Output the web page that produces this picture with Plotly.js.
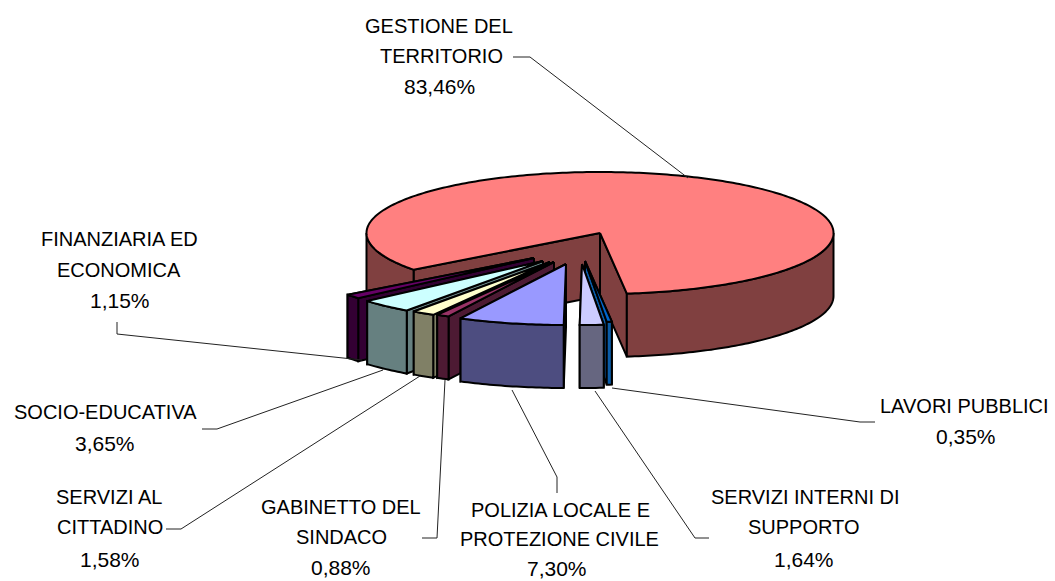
<!DOCTYPE html>
<html><head><meta charset="utf-8">
<script src="https://cdn.plot.ly/plotly-3.0.1.min.js"></script>
<style>html,body{margin:0;padding:0;background:#fff}#c{width:1055px;height:581px}</style>
</head><body><div id="c"></div>
<script>
// ---- data (clockwise from the main slice) ----
const categories = ["GESTIONE DEL|TERRITORIO","LAVORI PUBBLICI","SERVIZI INTERNI DI|SUPPORTO","POLIZIA LOCALE E|PROTEZIONE CIVILE","GABINETTO DEL|SINDACO","SERVIZI AL|CITTADINO","SOCIO-EDUCATIVA","FINANZIARIA ED|ECONOMICA"];
const values = [83.46,0.35,1.64,7.30,0.88,1.58,3.65,1.15];
const topColors = ["#FF8080","#0066CC","#CCCCFF","#9999FF","#993366","#FFFFCC","#CCFFFF","#660066"];
const sideColors = ["#804040","#0A5CA8","#666680","#4D4D80","#4D1A33","#808066","#668080","#330033"];
// per-slice explosion (pull) in plot units
const pullX = [0,-15,-18,-34,-46,-50,-57,-66];
const pullY = [0,28,31,31,29,29,28,25];
// centre of each text line of each label
const labelX = [[439,441,439],[964,966],[805,804,804],[560,559,557],[341,341,341],[109,110,110],[105,105],[119,119,120]];
const labelY = [[26,56,86],[406,436],[497,527,559],[510,539,568],[507,537,567],[497,527,559],[412,443],[239,270,300]];
// leader lines
const leaderX = [[513,530,688],[612,860,875],[595,695,709],[512,557,557],[422,437,445],[166,181,420],[202,217,383],[117,117,362]];
const leaderY = [[57,57,178],[388,422,422],[391,538,538],[390,477,493],[538,538,380],[529,529,376],[429,429,370],[322,334,360]];

// ---- geometry ----
const cx=600, cy=233, rx=233.5, ry=61, depth=63, startDeg=173.4;
const total=values.reduce((a,b)=>a+b,0);
function pt(t,ox,oy,dz){const r=t*Math.PI/180;return [cx+ox+rx*Math.sin(r),cy+oy-ry*Math.cos(r)+dz];}
function arc(a,b,ox,oy,dz){const n=Math.max(2,Math.ceil(Math.abs(b-a)));const o=[];for(let i=0;i<=n;i++)o.push(pt(a+(b-a)*i/n,ox,oy,dz));return o;}
const traces=[];
function poly(points,fill){
  const c=points.concat([points[0]]);
  traces.push({type:'scatter',mode:'lines',x:c.map(p=>p[0]),y:c.map(p=>p[1]),fill:'toself',fillcolor:fill,
    line:{color:'#000',width:2,simplify:false},hoverinfo:'skip',showlegend:false});
}
function wall(t,ox,oy,fill){
  const p=pt(t,ox,oy,0),q=pt(t,ox,oy,depth);
  poly([[cx+ox,cy+oy],p,q,[cx+ox,cy+oy+depth]],fill);
}
function front(a,b,ox,oy,fill){
  poly(arc(a,b,ox,oy,0).concat(arc(b,a,ox,oy,depth)),fill);
}
// slice angular spans
const spans=[];let acc=startDeg;
for(let i=1;i<values.length;i++){const s=values[i]/total*360;spans[i]=[acc,acc+s];acc+=s;}
const mainStart=acc, mainEnd=startDeg+360;
// main slice
wall(mainStart,0,0,sideColors[0]);
wall(startDeg,0,0,sideColors[0]);
front(90,startDeg,0,0,sideColors[0]);
front(mainStart,270,0,0,sideColors[0]);
poly([[cx,cy]].concat(arc(mainStart,mainEnd,0,0,0)),topColors[0]);
// exploded slices, back to front
[7,6,5,4,3,1,2].forEach(i=>{
  const [a,b]=spans[i], ox=pullX[i], oy=pullY[i];
  if(a>=178){wall(b,ox,oy,sideColors[i]);wall(a,ox,oy,sideColors[i]);}
  else{wall(a,ox,oy,sideColors[i]);wall(b,ox,oy,sideColors[i]);}
  front(a,b,ox,oy,sideColors[i]);
  poly([[cx+ox,cy+oy]].concat(arc(a,b,ox,oy,0)),topColors[i]);
});
// leaders
leaderX.forEach((xs,i)=>traces.push({type:'scatter',mode:'lines',x:xs,y:leaderY[i],line:{color:'#222',width:1},hoverinfo:'skip',showlegend:false}));
// labels
const annotations=[];
categories.forEach((c,i)=>{
  const names=c.split('|');
  const lines=names.concat([values[i].toFixed(2).replace('.',',')+'%']);
  lines.forEach((t,j)=>annotations.push({text:t,x:labelX[i][j],y:labelY[i][j],xref:'x',yref:'y',showarrow:false,
    xanchor:'center',yanchor:'middle',font:{family:'"Liberation Sans",Arial,sans-serif',size:j<names.length?20:21,color:'#000'}}));
});
Plotly.newPlot('c',traces,{
  width:1055,height:581,margin:{l:0,r:0,t:0,b:0},paper_bgcolor:'#fff',plot_bgcolor:'#fff',showlegend:false,
  xaxis:{range:[0,1055],visible:false,fixedrange:true},
  yaxis:{range:[581,0],visible:false,fixedrange:true},
  annotations:annotations
},{displayModeBar:false,staticPlot:true});
</script></body></html>
